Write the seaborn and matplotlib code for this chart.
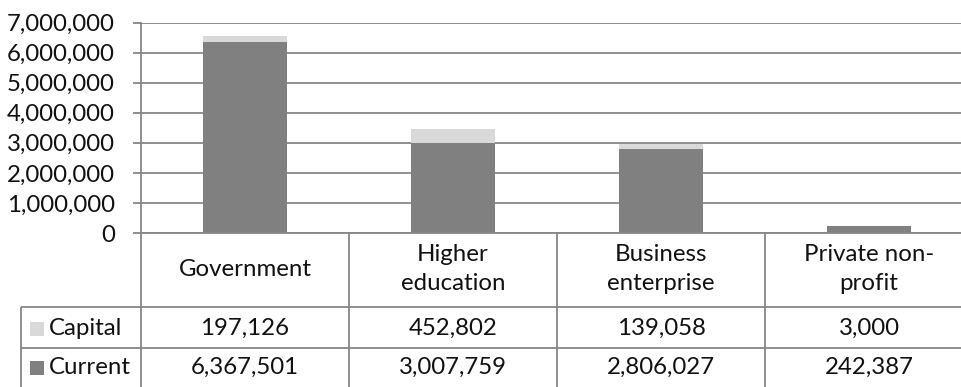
import matplotlib
matplotlib.use("Agg")
import matplotlib.pyplot as plt
import matplotlib.ticker as mticker
import numpy as np
import pandas as pd
import seaborn as sns

# R&D expenditure by sector of performance
sectors = ["Government", "Higher education", "Business enterprise", "Private non-profit"]
sector_labels = ["Government", "Higher\neducation", "Business\nenterprise", "Private non-\nprofit"]
capital = [197126, 452802, 139058, 3000]
current = [6367501, 3007759, 2806027, 242387]
y_ticks = [0, 1000000, 2000000, 3000000, 4000000, 5000000, 6000000, 7000000]

CURRENT_COLOR = "#808080"
CAPITAL_COLOR = "#D9D9D9"
LINE_COLOR = "#868686"
TEXT_COLOR = "#111111"

sns.set_style("white")
plt.rcParams["font.family"] = ["Lato", "DejaVu Sans"]
FS = 17.3

df = pd.DataFrame({"sector": sectors, "capital": capital, "current": current})
df["total"] = df["capital"] + df["current"]

W, H = 961, 387
fig = plt.figure(figsize=(W / 100, H / 100), dpi=100)

# main bar area
ax = fig.add_axes([141 / W, (H - 233) / H, 832 / W, (233 - 22.5) / H])
sns.barplot(data=df, x="sector", y="total", color=CAPITAL_COLOR, width=0.4,
            saturation=1, ax=ax, zorder=3, linewidth=0)
sns.barplot(data=df, x="sector", y="current", color=CURRENT_COLOR, width=0.4,
            saturation=1, ax=ax, zorder=4, linewidth=0)

ax.set_xlim(-0.5, 3.5)
ax.set_ylim(0, 7000000)
ax.set_yticks(y_ticks)
ax.yaxis.set_major_formatter(mticker.FuncFormatter(lambda v, p: f"{int(v):,}"))
ax.grid(axis="y", color=LINE_COLOR, linewidth=1.3, zorder=0)
ax.set_axisbelow(True)
ax.set_xlabel("")
ax.set_ylabel("")
ax.set_xticks([])
for side in ["top", "right", "bottom"]:
    ax.spines[side].set_visible(False)
ax.spines["left"].set_color(LINE_COLOR)
ax.spines["left"].set_linewidth(1.3)
ax.tick_params(axis="y", left=True, length=5.8, width=1.3, color=LINE_COLOR,
               labelsize=FS, labelcolor=TEXT_COLOR, pad=13)

# data table below the bars, sharing the category positions
tab = fig.add_axes([141 / W, -2 / H, 832 / W, 156 / H], sharex=ax)
tab.set_ylim(0, 156)
tab.axis("off")


def px2x(p):
    return -0.5 + (p - 141) / 208


left_edge = px2x(21)
right_edge = 3.5 + 0.2
row_top, row_head, row_cap, row_bot = 156, 82, 41, 0
lkw = dict(color=LINE_COLOR, linewidth=1.3, clip_on=False, solid_capstyle="butt")

tab.plot([-0.5, right_edge], [row_top, row_top], **lkw)
tab.plot([left_edge, right_edge], [row_head, row_head], **lkw)
tab.plot([left_edge, right_edge], [row_cap, row_cap], **lkw)
tab.plot([left_edge, left_edge], [row_bot, row_head], **lkw)
for i in range(len(sectors) + 1):
    tab.plot([i - 0.5, i - 0.5], [row_bot, row_top], **lkw)

for i, lab in enumerate(sector_labels):
    tab.text(i, (row_top + row_head) / 2 + 1, lab, ha="center", va="center",
             fontsize=FS, color=TEXT_COLOR, linespacing=1.45)
    tab.text(i, (row_head + row_cap) / 2 - 1, f"{capital[i]:,}", ha="center",
             va="center", fontsize=FS, color=TEXT_COLOR)
    tab.text(i, (row_cap + row_bot) / 2 + 1, f"{current[i]:,}", ha="center",
             va="center", fontsize=FS, color=TEXT_COLOR)

# legend keys in the row headers
for y, name, col in [((row_head + row_cap) / 2 - 1, "Capital", CAPITAL_COLOR),
                     ((row_cap + row_bot) / 2 + 1, "Current", CURRENT_COLOR)]:
    tab.plot([px2x(37.5)], [y], marker="s", markersize=10, color=col,
             markeredgewidth=0, clip_on=False, linestyle="none")
    tab.text(px2x(49), y, name, ha="left", va="center", fontsize=FS,
             color=TEXT_COLOR)

fig.savefig("out.png", dpi=100)
